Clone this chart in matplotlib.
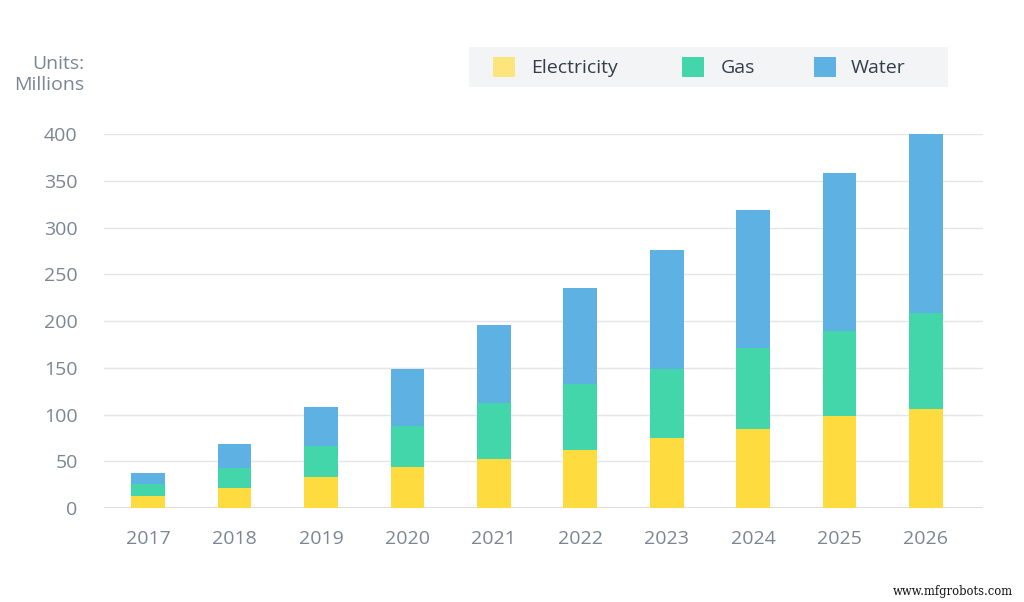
import matplotlib
matplotlib.use("Agg")
import matplotlib.pyplot as plt
from matplotlib.patches import Rectangle

# data (units: millions)
years = ["2017", "2018", "2019", "2020", "2021", "2022", "2023", "2024", "2025", "2026"]
electricity = [12.7, 21.6, 33.6, 43.7, 52.2, 62.2, 75, 84.8, 98, 106]
gas_top = [26.1, 42.8, 66.8, 87.7, 112.6, 132.5, 149.2, 170.8, 189, 209]
water_top = [37.5, 68.6, 108, 148.8, 195.4, 236, 276, 319, 358.6, 400]
gas = [g - e for g, e in zip(gas_top, electricity)]
water = [w - g for w, g in zip(water_top, gas_top)]

series = ["Electricity", "Gas", "Water"]
colors = ["#fedc3f", "#43d6ab", "#5eb1e3"]
legend_colors = ["#fde57c", "#43d6ab", "#5eb1e3"]

plt.rcParams['font.family'] = ['Open Sans', 'DejaVu Sans']
tick_color = "#7a8692"

fig = plt.figure(figsize=(10.24, 6.02), dpi=100)
ax = fig.add_axes([0.1016, 0.156, 0.8584, 0.621])

x = list(range(len(years)))
w = 0.39
ax.bar(x, electricity, w, color=colors[0], zorder=3)
ax.bar(x, gas, w, bottom=electricity, color=colors[1], zorder=3)
ax.bar(x, water, w, bottom=gas_top, color=colors[2], zorder=3)

ax.set_xlim(-0.51, 9.66)
ax.set_ylim(0, 400)
ax.set_yticks(range(0, 401, 50))
ax.set_xticks(x)
ax.set_xticklabels(years)
ax.yaxis.grid(True, color="#e3e5e8", linewidth=1, zorder=0)
ax.axhline(0, color="#d5d8dc", linewidth=1.2, zorder=2)
for s in ax.spines.values():
    s.set_visible(False)
ax.tick_params(axis='both', length=0, labelsize=14, colors=tick_color)
ax.tick_params(axis='y', pad=19)
ax.tick_params(axis='x', pad=16)

fig.text(0.082, 0.876, "Units:\nMillions", ha="right", va="center",
         fontsize=14, color=tick_color, linespacing=1.2)

# legend box
fig.patches.append(Rectangle((469 / 1024, 1 - 87 / 602), 479 / 1024, 40 / 602,
                             transform=fig.transFigure, facecolor="#f3f4f6",
                             edgecolor="none", zorder=0))
sw_x = [493, 682, 814]
tx_x = [531, 721, 851]
for i in range(3):
    fig.patches.append(Rectangle((sw_x[i] / 1024, 1 - 77 / 602), 22 / 1024, 20 / 602,
                                 transform=fig.transFigure, facecolor=legend_colors[i],
                                 edgecolor="none", zorder=1))
    fig.text(tx_x[i] / 1024, 1 - 68 / 602, series[i], ha="left", va="center",
             fontsize=14, color="#353d4a")

fig.text(1013 / 1024, 1 - 591 / 602, "www.mfgrobots.com", ha="right", va="center",
         fontsize=8.3, color="#111111", family="DejaVu Serif")

fig.savefig("out.png", dpi=100)
